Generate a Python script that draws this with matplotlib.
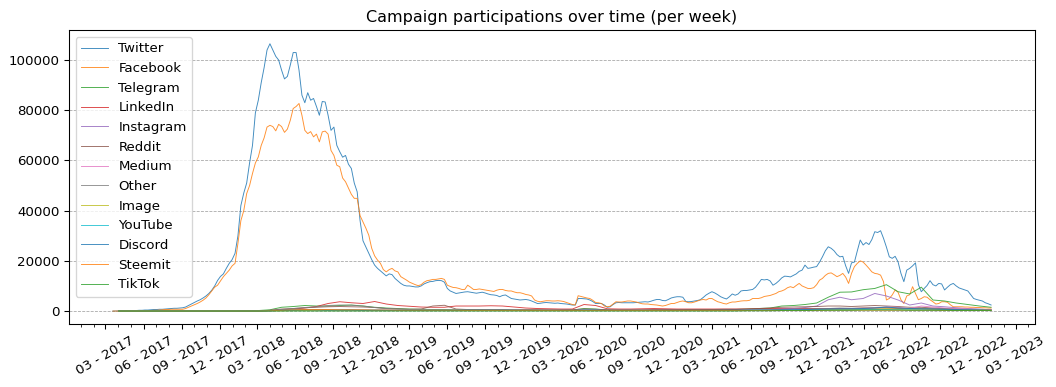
import matplotlib
matplotlib.use("Agg")
import matplotlib.pyplot as plt
import matplotlib.dates as mdates
import numpy as np
import pandas as pd

# Weekly dates
dates = pd.date_range("2017-03-19", periods=303, freq="7D")

# values in thousands of participations per week
twitter_k = [
    0.0, 0.0, 0.1, 0.1, 0.1, 0.1, 0.2, 0.2, 0.2, 0.3,
    0.3, 0.4, 0.4, 0.5, 0.6, 0.6, 0.7, 0.7, 0.8, 0.9,
    1.0, 1.1, 1.1, 1.2, 1.3, 1.6, 2.2, 2.8, 3.4, 4.0,
    4.5, 5.2, 6.0, 7.0, 8.3, 10.0, 12.2, 13.8, 14.8, 17.0,
    19.0, 20.5, 23.0, 30.0, 42.0, 47.0, 51.0, 59.0, 66.0, 79.0,
    84.0, 91.0, 97.0, 104.0, 106.5, 104.0, 101.5, 100.0, 96.0, 92.5,
    93.5, 98.0, 103.0, 103.0, 96.0, 86.0, 83.0, 87.0, 84.0, 84.7,
    81.5, 78.0, 83.5, 83.3, 78.0, 72.0, 73.3, 66.0, 63.5, 61.3,
    62.0, 58.5, 56.8, 51.0, 47.5, 36.0, 28.0, 25.5, 23.0, 20.5,
    18.3, 17.0, 16.0, 15.0, 14.0, 14.8, 14.5, 13.0, 12.0, 11.0,
    10.3, 10.0, 10.0, 9.8, 9.6, 9.6, 10.0, 10.8, 11.3, 11.7,
    11.8, 12.1, 12.2, 12.1, 11.5, 9.0, 8.0, 7.5, 7.0, 7.2,
    7.4, 7.6, 7.7, 7.5, 7.3, 7.1, 7.3, 7.5, 7.2, 6.8,
    6.5, 6.4, 6.2, 5.7, 6.2, 6.4, 5.7, 5.0, 4.8, 4.6,
    4.4, 4.5, 4.6, 4.4, 4.0, 3.5, 3.0, 3.1, 3.3, 3.4,
    3.3, 3.2, 3.1, 3.2, 3.0, 2.9, 2.8, 2.6, 2.4, 2.4,
    5.0, 5.0, 4.9, 4.8, 4.4, 3.8, 3.0, 3.0, 3.0, 2.4,
    1.5, 1.7, 2.6, 3.3, 3.4, 3.3, 3.3, 3.3, 3.3, 3.3,
    3.4, 3.5, 3.6, 3.7, 3.6, 3.9, 4.3, 4.6, 4.6, 4.2,
    4.1, 4.6, 5.2, 5.5, 5.7, 5.7, 5.5, 3.8, 3.7, 3.8,
    4.0, 4.2, 4.5, 5.4, 6.4, 7.1, 7.7, 7.2, 6.5, 5.7,
    5.2, 4.8, 5.7, 6.8, 6.3, 6.8, 8.0, 8.2, 8.2, 8.4,
    8.6, 9.5, 11.0, 12.6, 12.4, 12.6, 12.0, 10.3, 11.0, 12.0,
    13.2, 13.9, 13.8, 13.6, 14.2, 14.8, 15.8, 16.3, 18.3, 17.0,
    17.2, 17.5, 17.7, 19.5, 21.6, 24.0, 25.6, 25.0, 24.0, 22.5,
    21.6, 21.8, 18.0, 15.0, 19.2, 19.5, 24.0, 28.3, 26.3, 27.3,
    26.5, 28.5, 31.6, 31.3, 32.0, 29.0, 25.5, 21.6, 21.0, 21.8,
    19.6, 15.0, 11.7, 16.3, 17.0, 18.0, 19.2, 10.5, 7.7, 9.0,
    10.2, 12.1, 10.5, 10.0, 11.0, 10.8, 8.4, 9.5, 10.5, 11.0,
    10.0, 9.2, 8.8, 8.4, 8.0, 6.5, 5.0, 4.6, 4.3, 4.0,
    3.3, 2.9, 2.4,
]

facebook_k = [
    0.0, 0.0, 0.0, 0.0, 0.0, 0.0, 0.0, 0.1, 0.1, 0.1,
    0.1, 0.1, 0.2, 0.2, 0.3, 0.3, 0.4, 0.5, 0.6, 0.6,
    0.7, 0.7, 0.7, 0.7, 0.7, 1.0, 1.5, 2.0, 2.5, 3.0,
    3.6, 4.3, 5.2, 6.5, 8.0, 9.5, 10.3, 12.0, 13.7, 15.0,
    16.3, 18.0, 19.0, 27.0, 36.0, 40.0, 46.8, 50.0, 54.8, 59.0,
    61.4, 66.0, 69.0, 73.3, 74.0, 73.5, 71.8, 74.4, 73.5, 71.2,
    72.5, 76.0, 80.7, 81.5, 82.7, 78.0, 72.0, 70.7, 71.5, 69.4,
    70.5, 67.4, 71.4, 71.7, 70.5, 64.0, 62.0, 58.1, 57.5, 53.0,
    51.5, 49.0, 46.5, 44.9, 44.9, 38.0, 35.5, 33.0, 30.2, 25.0,
    22.0, 20.3, 19.0, 16.5, 15.6, 16.5, 17.0, 16.0, 15.6, 13.7,
    13.0, 12.3, 11.5, 11.0, 10.5, 10.1, 10.5, 11.5, 12.1, 12.3,
    12.6, 12.6, 12.8, 13.0, 12.6, 10.3, 9.8, 9.4, 9.3, 9.0,
    8.6, 8.6, 10.3, 9.5, 8.6, 8.6, 8.8, 8.6, 8.4, 8.2,
    8.0, 7.8, 8.3, 8.6, 8.6, 8.2, 8.0, 8.0, 7.6, 7.3,
    7.3, 7.0, 6.6, 6.4, 6.0, 4.4, 3.9, 3.7, 3.9, 4.1,
    4.1, 4.0, 4.0, 4.1, 4.0, 3.8, 3.4, 3.0, 2.6, 2.4,
    6.1, 5.8, 5.5, 5.2, 5.0, 4.3, 3.4, 3.3, 3.0, 2.0,
    1.7, 1.9, 2.8, 3.7, 3.6, 3.6, 3.8, 4.0, 4.0, 3.8,
    3.6, 3.2, 2.9, 2.8, 2.8, 2.6, 2.5, 2.4, 2.2, 2.0,
    2.2, 2.6, 3.0, 3.0, 3.4, 3.8, 4.0, 3.7, 3.3, 3.3,
    3.6, 4.0, 4.4, 4.6, 4.4, 5.0, 5.0, 4.3, 3.7, 3.4,
    3.0, 2.8, 3.3, 3.6, 3.6, 3.8, 4.0, 4.1, 4.1, 4.3,
    5.0, 5.0, 5.0, 5.3, 5.8, 6.0, 6.2, 6.6, 7.0, 7.7,
    8.0, 8.5, 9.3, 9.7, 9.3, 10.2, 11.0, 10.0, 9.5, 9.0,
    9.0, 9.3, 10.5, 12.3, 13.0, 14.2, 15.0, 15.2, 14.5, 13.7,
    14.2, 15.0, 13.5, 11.0, 15.0, 17.7, 19.0, 20.0, 19.5, 18.3,
    17.0, 15.6, 15.0, 14.8, 14.3, 11.7, 4.4, 5.0, 6.4, 8.4,
    7.5, 4.5, 3.0, 6.0, 6.5, 9.7, 7.0, 4.5, 5.0, 5.7,
    5.5, 4.5, 3.7, 2.8, 3.0, 3.7, 3.7, 3.5, 2.5, 1.7,
    1.7, 1.7, 1.7, 1.6, 1.6, 1.5, 1.5, 1.4, 1.4, 1.3,
    1.3, 1.2, 1.2,
]

# Smaller platforms, read every 4th week (thousands)
minor_dates = dates[2::4]

telegram_k = [
    0, 0, 0, 0, 0, 0, 0, 0, 0, 0, 0, 0.1, 0.2, 0.5, 1.5, 1.8,
    2.2, 2.0, 2.0, 2.2, 2.4, 2.0, 1.5, 1.2, 1.0, 0.8, 0.7, 0.6, 0.6, 0.5,
    0.5, 0.5, 0.4, 0.4, 0.4, 0.4, 0.4, 0.3, 0.3, 0.4, 1.0, 0.8, 0.4, 0.3,
    0.3, 0.3, 0.3, 0.3, 0.3, 0.4, 0.4, 0.5, 0.5, 0.6, 0.8, 1.0, 1.2, 2.0,
    2.2, 2.6, 3.2, 5.5, 7.5, 7.6, 8.5, 9.0, 10.5, 7.7, 6.8, 9.5, 4.4, 4.0,
    3.2, 2.6, 2.0, 1.5,
]

linkedin_k = [
    0, 0, 0, 0, 0, 0, 0, 0, 0, 0, 0, 0, 0, 0.2, 0.5, 0.8,
    1.2, 1.8, 3.0, 3.7, 3.3, 3.0, 3.8, 2.8, 2.2, 1.9, 1.6, 1.5, 1.5, 2.0,
    2.0, 2.0, 2.1, 2.0, 1.6, 1.2, 1.0, 0.9, 0.8, 0.8, 2.6, 2.2, 0.9, 0.8,
    0.8, 0.9, 1.0, 0.9, 0.8, 0.8, 0.8, 0.8, 0.8, 0.8, 0.8, 0.9, 1.0, 1.0,
    1.0, 1.0, 1.0, 1.0, 1.0, 1.0, 1.2, 1.2, 1.2, 1.0, 1.0, 0.9, 0.8, 0.7,
    0.6, 0.5, 0.5, 0.4,
]

instagram_k = [
    0, 0, 0, 0, 0, 0, 0, 0, 0, 0, 0, 0, 0, 0.1, 0.2, 0.3,
    0.3, 0.3, 0.3, 0.3, 0.3, 0.3, 0.3, 0.3, 0.3, 0.3, 0.3, 0.3, 0.3, 0.3,
    0.3, 0.3, 0.3, 0.3, 0.3, 0.3, 0.3, 0.3, 0.3, 0.3, 0.4, 0.4, 0.3, 0.3,
    0.3, 0.3, 0.3, 0.3, 0.3, 0.3, 0.3, 0.3, 0.3, 0.4, 0.4, 0.5, 0.5, 0.8,
    1.0, 1.4, 2.0, 4.5, 5.5, 4.5, 5.0, 7.0, 6.0, 4.4, 2.4, 3.2, 2.0, 1.7,
    1.3, 1.0, 0.8, 0.5,
]

reddit_k = [
    0, 0, 0, 0, 0, 0, 0, 0, 0, 0, 0, 0, 0, 0.3, 0.8, 1.0,
    1.3, 1.5, 1.7, 1.8, 1.7, 1.6, 1.4, 1.0, 0.8, 0.7, 0.8, 2.0, 2.3, 0.8,
    0.6, 0.6, 0.6, 0.6, 0.5, 0.5, 0.5, 0.5, 0.5, 0.5, 0.8, 0.7, 0.5, 0.5,
    0.5, 0.5, 0.6, 0.6, 0.6, 0.6, 0.6, 0.6, 0.7, 0.7, 0.8, 1.0, 1.2, 1.5,
    1.6, 1.7, 1.8, 2.0, 2.0, 1.8, 2.0, 2.2, 2.0, 1.8, 1.5, 1.5, 1.2, 1.0,
    0.8, 0.7, 0.6, 0.5,
]

medium_k = [
    0, 0, 0, 0, 0, 0, 0, 0, 0, 0, 0, 0, 0, 0.1, 0.2, 0.3,
    0.3, 0.4, 0.4, 0.4, 0.4, 0.3, 0.3, 0.3, 0.2, 0.2, 0.2, 0.2, 0.2, 0.2,
    0.2, 0.2, 0.2, 0.2, 0.2, 0.2, 0.2, 0.2, 0.2, 0.2, 0.3, 0.3, 0.2, 0.2,
    0.2, 0.2, 0.2, 0.2, 0.2, 0.2, 0.2, 0.2, 0.2, 0.2, 0.3, 0.3, 0.3, 0.4,
    0.4, 0.5, 0.5, 0.6, 0.7, 0.8, 0.9, 1.2, 1.6, 1.5, 1.0, 2.0, 1.6, 1.2,
    1.0, 0.8, 0.6, 0.5,
]

other_k = [
    0, 0, 0, 0, 0, 0, 0, 0, 0, 0, 0, 0, 0, 0.2, 0.6, 1.0,
    1.4, 1.7, 2.2, 2.4, 2.3, 2.0, 1.4, 1.0, 0.8, 0.6, 0.5, 0.5, 0.5, 0.4,
    0.4, 0.4, 0.4, 0.4, 0.3, 0.3, 0.3, 0.3, 0.3, 0.3, 0.5, 0.4, 0.3, 0.3,
    0.3, 0.3, 0.3, 0.3, 0.3, 0.3, 0.3, 0.3, 0.3, 0.3, 0.4, 0.4, 0.5, 0.6,
    0.7, 0.8, 0.9, 1.0, 1.2, 1.1, 1.2, 1.3, 1.4, 1.2, 1.0, 1.1, 0.9, 0.8,
    0.7, 0.6, 0.5, 0.4,
]

image_k = [
    0, 0, 0, 0, 0, 0, 0, 0, 0, 0, 0, 0, 0, 0.1, 0.1, 0.2,
    0.2, 0.3, 0.3, 0.3, 0.3, 0.2, 0.2, 0.2, 0.2, 0.2, 0.2, 0.2, 0.2, 0.2,
    0.2, 0.2, 0.2, 0.2, 0.2, 0.2, 0.2, 0.2, 0.2, 0.2, 0.2, 0.2, 0.2, 0.2,
    0.2, 0.2, 0.2, 0.2, 0.2, 0.2, 0.2, 0.2, 0.2, 0.2, 0.2, 0.3, 0.3, 0.3,
    0.3, 0.4, 0.4, 0.5, 0.6, 0.6, 0.7, 0.8, 0.9, 0.8, 0.7, 0.8, 0.6, 0.5,
    0.5, 0.4, 0.4, 0.3,
]

youtube_k = [
    0, 0, 0, 0, 0, 0, 0, 0, 0, 0, 0, 0, 0, 0.1, 0.3, 0.5,
    0.6, 0.6, 0.5, 0.5, 0.5, 0.4, 0.4, 0.3, 0.3, 0.3, 0.3, 0.3, 0.3, 0.3,
    0.3, 0.3, 0.3, 0.3, 0.3, 0.2, 0.2, 0.2, 0.2, 0.2, 0.3, 0.3, 0.2, 0.2,
    0.2, 0.2, 0.2, 0.2, 0.2, 0.2, 0.2, 0.2, 0.2, 0.2, 0.3, 0.3, 0.3, 0.3,
    0.4, 0.4, 0.4, 0.5, 0.5, 0.5, 0.6, 0.6, 0.6, 0.5, 0.5, 0.5, 0.4, 0.4,
    0.3, 0.3, 0.3, 0.2,
]

discord_k = [
    0, 0, 0, 0, 0, 0, 0, 0, 0, 0, 0, 0, 0, 0.1, 0.3, 0.4,
    0.5, 0.5, 0.4, 0.4, 0.4, 0.3, 0.3, 0.3, 0.2, 0.2, 0.2, 0.2, 0.2, 0.2,
    0.2, 0.2, 0.2, 0.2, 0.2, 0.2, 0.2, 0.2, 0.2, 0.2, 0.3, 0.3, 0.2, 0.2,
    0.2, 0.2, 0.2, 0.2, 0.2, 0.2, 0.2, 0.2, 0.3, 0.3, 0.3, 0.4, 0.4, 0.5,
    0.5, 0.6, 0.7, 0.8, 0.9, 0.9, 1.0, 1.2, 1.6, 1.2, 1.0, 0.9, 0.8, 0.7,
    0.6, 0.5, 0.4, 0.3,
]

steemit_k = [
    0, 0, 0, 0, 0, 0, 0, 0, 0, 0, 0, 0, 0, 0.1, 0.3, 0.5,
    0.6, 0.6, 0.6, 0.5, 0.5, 0.5, 0.4, 0.4, 0.3, 0.3, 0.3, 0.3, 0.3, 0.3,
    0.2, 0.2, 0.2, 0.2, 0.2, 0.2, 0.2, 0.2, 0.2, 0.2, 0.2, 0.2, 0.2, 0.2,
    0.2, 0.2, 0.2, 0.2, 0.2, 0.2, 0.2, 0.2, 0.2, 0.2, 0.2, 0.2, 0.2, 0.2,
    0.2, 0.2, 0.2, 0.3, 0.3, 0.3, 0.3, 0.3, 0.3, 0.3, 0.3, 0.3, 0.3, 0.2,
    0.2, 0.2, 0.2, 0.2,
]

tiktok_k = [
    0, 0, 0, 0, 0, 0, 0, 0, 0, 0, 0, 0, 0, 0, 0, 0,
    0, 0, 0, 0, 0, 0, 0, 0, 0, 0, 0, 0, 0, 0,
    0, 0, 0, 0, 0, 0, 0, 0, 0, 0, 0, 0, 0, 0,
    0, 0, 0, 0, 0, 0, 0, 0, 0, 0, 0.1, 0.1, 0.1, 0.2,
    0.2, 0.2, 0.3, 0.3, 0.3, 0.3, 0.4, 0.4, 0.4, 0.4, 0.3, 0.3, 0.3, 0.3,
    0.2, 0.2, 0.2, 0.2,
]

series = [
    ("Twitter", dates, twitter_k),
    ("Facebook", dates, facebook_k),
    ("Telegram", minor_dates, telegram_k),
    ("LinkedIn", minor_dates, linkedin_k),
    ("Instagram", minor_dates, instagram_k),
    ("Reddit", minor_dates, reddit_k),
    ("Medium", minor_dates, medium_k),
    ("Other", minor_dates, other_k),
    ("Image", minor_dates, image_k),
    ("YouTube", minor_dates, youtube_k),
    ("Discord", minor_dates, discord_k),
    ("Steemit", minor_dates, steemit_k),
    ("TikTok", minor_dates, tiktok_k),
]

tab10 = ["#1f77b4", "#ff7f0e", "#2ca02c", "#d62728", "#9467bd",
         "#8c564b", "#e377c2", "#7f7f7f", "#bcbd22", "#17becf"]

fig = plt.figure(figsize=(11, 387 / 96), dpi=96)
ax = fig.add_axes([69 / 1056, 1 - 324.4 / 387, (1035 - 69) / 1056, (324.4 - 30.4) / 387])

for k, (name, d, vals) in enumerate(series):
    ax.plot(d, np.array(vals) * 1000, label=name, lw=0.7, alpha=0.85,
            color=tab10[k % len(tab10)])

ax.set_title("Campaign participations over time (per week)")
ax.grid(axis="y", linestyle="--", color="gray", lw=0.6, alpha=0.7)
ax.xaxis.set_major_locator(mdates.MonthLocator(bymonth=[3, 6, 9, 12]))
ax.xaxis.set_minor_locator(mdates.MonthLocator())
ax.xaxis.set_major_formatter(mdates.DateFormatter("%m - %Y"))
plt.setp(ax.get_xticklabels(), rotation=30, ha="center")
ax.legend(loc="upper left")

fig.savefig("out.png", dpi=96)
